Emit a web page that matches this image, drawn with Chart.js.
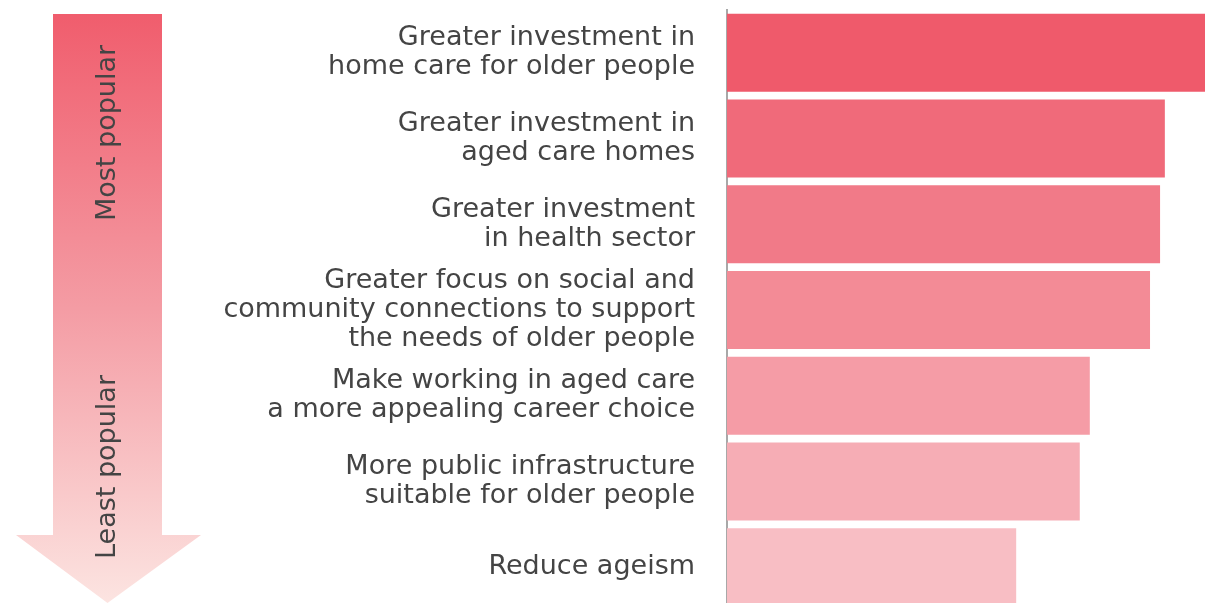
<!DOCTYPE html>
<html>
<head>
<meta charset="utf-8">
<script src="https://cdn.jsdelivr.net/npm/chart.js@4.4.0/dist/chart.umd.min.js"></script>
<style>
  html, body { margin: 0; padding: 0; background: #fff; overflow: hidden; }
  #wrap { width: 1205px; height: 610px; position: relative; }
</style>
</head>
<body>
<div id="wrap"><canvas id="myChart"></canvas></div>
<script>
// categories, top = most popular
var labels = [
  ["Greater investment in", "home care for older people"],
  ["Greater investment in", "aged care homes"],
  ["Greater investment", "in health sector"],
  ["Greater focus on social and", "community connections to support", "the needs of older people"],
  ["Make working in aged care", "a more appealing career choice"],
  ["More public infrastructure", "suitable for older people"],
  ["Reduce ageism"]
];
// relative popularity
var values = [100, 91.6, 90.6, 88.5, 75.9, 73.8, 60.5];
var barColors = ['#ef5a6b', '#f06a7a', '#f17a88', '#f38b96', '#f59ca6', '#f6adb5', '#f8bec4'];
var arrowTop = "Most popular";
var arrowBottom = "Least popular";

var textColor = '#444444';
var fontName = '"DejaVu Sans"';

// the big gradient arrow on the left
var arrowPlugin = {
  id: 'arrow',
  beforeDraw: function(chart) {
    var ctx = chart.ctx;
    var top = 14, shaftL = 53, shaftR = 162, headY = 535, headL = 16, headR = 201, tipY = 603;
    var cx = (shaftL + shaftR) / 2;
    var g = ctx.createLinearGradient(0, top, 0, tipY);
    g.addColorStop(0, '#f05d6d');
    g.addColorStop(0.5, '#f49ca4');
    g.addColorStop(1, '#fce4e1');
    ctx.save();
    ctx.fillStyle = g;
    ctx.beginPath();
    ctx.moveTo(shaftL, top);
    ctx.lineTo(shaftR, top);
    ctx.lineTo(shaftR, headY);
    ctx.lineTo(headR, headY);
    ctx.lineTo(cx, tipY);
    ctx.lineTo(headL, headY);
    ctx.lineTo(shaftL, headY);
    ctx.closePath();
    ctx.fill();

    ctx.fillStyle = textColor;
    ctx.font = '27px ' + fontName;
    ctx.textAlign = 'center';
    ctx.textBaseline = 'middle';
    ctx.translate(cx, 133);
    ctx.rotate(-Math.PI / 2);
    ctx.fillText(arrowTop, 0, 0);
    ctx.restore();

    ctx.save();
    ctx.fillStyle = textColor;
    ctx.font = '27px ' + fontName;
    ctx.textAlign = 'center';
    ctx.textBaseline = 'middle';
    ctx.translate(cx, 467);
    ctx.rotate(-Math.PI / 2);
    ctx.fillText(arrowBottom, 0, 0);
    ctx.restore();
  }
};

var ctx = document.getElementById('myChart').getContext('2d');
var myChart = new Chart(ctx, {
  type: 'bar',
  data: {
    labels: labels,
    datasets: [{
      data: values,
      backgroundColor: barColors,
      borderWidth: 0,
      barPercentage: 0.91,
      categoryPercentage: 1.0
    }]
  },
  options: {
    indexAxis: 'y',
    responsive: true,
    maintainAspectRatio: false,
    animation: false,
    layout: { padding: { left: 0, right: 0, top: 10, bottom: 0 } },
    plugins: {
      legend: { display: false },
      tooltip: { enabled: false }
    },
    scales: {
      x: {
        display: false,
        min: 0,
        max: 100
      },
      y: {
        afterFit: function(scale) {
          scale.width = 727;
          scale.paddingTop = 0;
          scale.paddingBottom = 0;
        },
        grid: { display: false, drawTicks: false },
        border: { display: true, color: '#a8a8a8', width: 2 },
        ticks: {
          autoSkip: false,
          color: textColor,
          padding: 32,
          font: { family: fontName, size: 27, lineHeight: 1.07 }
        }
      }
    }
  },
  plugins: [arrowPlugin]
});
</script>
</body>
</html>
